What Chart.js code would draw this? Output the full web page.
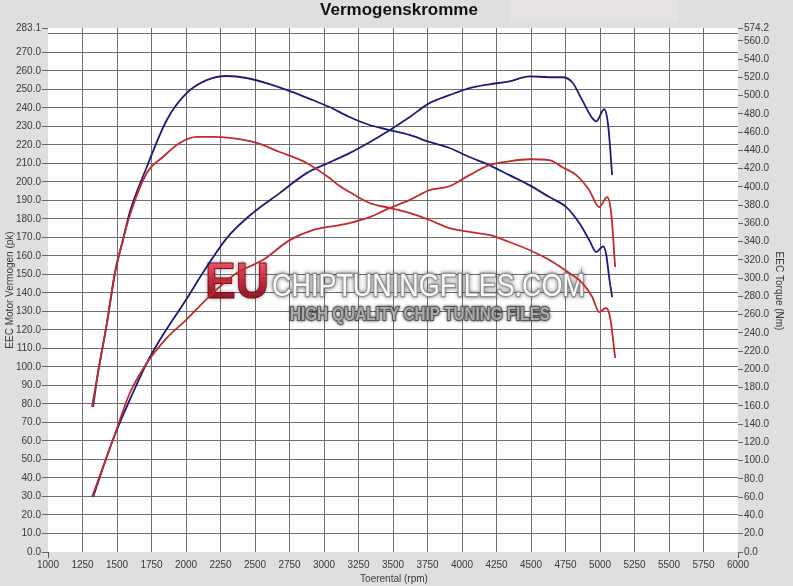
<!DOCTYPE html>
<html>
<head>
<meta charset="utf-8">
<script src="https://cdn.jsdelivr.net/npm/chart.js@4.4.1/dist/chart.umd.min.js"></script>
<style>
html,body{margin:0;padding:0;background:#e0e0e0;}
canvas{display:block;}
</style>
</head>
<body>
<canvas id="c" width="793" height="586"></canvas>
<script>
// ---- data ----
const xTicks = [1000,1250,1500,1750,2000,2250,2500,2750,3000,3250,3500,3750,4000,4250,4500,4750,5000,5250,5500,5750,6000];
const leftTicks = [0,10,20,30,40,50,60,70,80,90,100,110,120,130,140,150,160,170,180,190,200,210,220,230,240,250,260,270,280,283.1];
const rightTicks = [0,20,40,60,80,100,120,140,160,180,200,220,240,260,280,300,320,340,360,380,400,420,440,460,480,500,520,540,560,574.2];

// tuned (blue) power, pk
const bluePowerRpm = [1326,1470,1615,1716,1810,1999,2121,2300,2483,2679,2874,3040,3185,3330,3475,3619,3764,3909,4054,4198,4343,4488,4633,4727,4799,4871,4944,4973,5030,5059,5088];
const bluePowerPk  = [29.7,60.5,85.9,102.1,114.5,136.1,150.7,170.0,183.1,193.9,204.7,210.5,215.5,221.4,227.9,234.9,242.5,246.8,250.6,252.7,254.3,257.0,256.5,256.5,253.8,244.1,234.4,232.7,239.2,230.6,203.6];

// stock (red) power, pk
const redPowerRpm = [1319,1470,1593,1716,1847,1999,2194,2368,2556,2751,2918,3113,3185,3330,3475,3619,3764,3909,4054,4198,4343,4488,4633,4727,4828,4922,4994,5052,5081,5110];
const redPowerPk  = [29.7,60.5,85.9,102.1,114.5,125.3,139.9,150.7,157.7,168.5,173.9,176.6,177.7,180.9,185.8,190.1,195.5,197.6,203.6,209.0,211.1,212.2,211.7,207.9,203.6,195.5,186.3,191.7,183.1,153.9];

// tuned (blue) torque, Nm
const blueTorqueRpm = [1326,1362,1427,1485,1543,1593,1716,1861,2006,2150,2295,2440,2606,2773,2918,3040,3185,3330,3475,3619,3764,3909,4054,4198,4343,4488,4633,4756,4850,4922,4973,5023,5045,5067,5088];
const blueTorqueNm  = [158.9,196.1,250.9,305.7,341.9,372.6,421.9,473.4,503.0,517.0,521.6,519.4,512.8,504.0,495.3,487.6,476.7,467.9,462.4,457.0,449.3,442.7,432.8,424.0,413.0,402.0,388.9,378.0,360.5,341.9,328.7,335.0,326.0,300.0,279.4];

// stock (red) torque, Nm
const redTorqueRpm = [1319,1362,1427,1485,1543,1593,1716,1832,1955,2078,2194,2317,2512,2679,2874,3040,3113,3185,3330,3475,3619,3764,3909,4054,4198,4343,4488,4633,4777,4871,4944,4994,5045,5074,5110];
const redTorqueNm  = [158.9,196.1,250.9,305.7,341.9,369.0,415.3,432.8,448.2,454.8,454.8,453.7,448.2,438.3,426.3,409.8,401.0,394.5,382.4,377.0,371.5,363.8,355.0,350.7,347.4,339.7,330.9,320.0,305.7,294.8,279.4,263.0,267.4,256.4,212.6];

// ---- styling ----
const BLUE = '#1c1c78';
const RED = '#c42a2c';
const GRID = '#6e6e6e';
const TXT = '#3a3a3a';
const SANS = "'Liberation Sans',Arial,sans-serif";

function pts(xs, ys){ return xs.map((x,i)=>({x:x, y:ys[i]})); }

const bgPlugin = {
  id:'bg',
  beforeDraw(chart){
    const {ctx, chartArea:a} = chart;
    ctx.save();
    ctx.fillStyle = '#dfdfdf';
    ctx.fillRect(0,0,chart.width,chart.height);
    ctx.fillStyle = '#e6e2e4';
    ctx.fillRect(510,0,168,22);
    ctx.fillStyle = '#ffffff';
    ctx.fillRect(a.left,a.top,a.right-a.left,a.bottom-a.top);
    ctx.restore();
  }
};

const watermark = {
  id:'wm',
  beforeDatasetsDraw(chart){
    const ctx = chart.ctx;
    ctx.save();
    ctx.textAlign = 'left';
    ctx.textBaseline = 'alphabetic';
    // EU
    ctx.globalAlpha = 0.92;
    const g = ctx.createLinearGradient(0,262,0,298);
    g.addColorStop(0,'#ee5064');
    g.addColorStop(0.5,'#cc2236');
    g.addColorStop(1,'#8a1020');
    ctx.font = "bold 50px " + SANS;
    ctx.shadowColor = 'rgba(0,0,0,0.55)';
    ctx.shadowBlur = 4;
    ctx.fillStyle = g;
    ctx.fillText('EU', 205, 298, 64);
    ctx.shadowBlur = 0;
    ctx.strokeStyle = '#6a0a14';
    ctx.lineWidth = 1;
    ctx.strokeText('EU', 205, 298, 64);
    // CHIPTUNINGFILES.COM
    ctx.globalAlpha = 0.95;
    ctx.font = "32px " + SANS;
    ctx.shadowColor = 'rgba(0,0,0,0.6)';
    ctx.shadowBlur = 4;
    ctx.lineWidth = 2.4;
    ctx.strokeStyle = '#8f8f8f';
    ctx.strokeText('CHIPTUNINGFILES.COM', 272, 296, 313);
    ctx.shadowBlur = 0;
    ctx.fillStyle = '#ffffff';
    ctx.fillText('CHIPTUNINGFILES.COM', 272, 296, 313);
    // HIGH QUALITY CHIP TUNING FILES
    ctx.font = "bold 18px " + SANS;
    ctx.shadowColor = 'rgba(0,0,0,0.8)';
    ctx.shadowBlur = 3;
    ctx.lineWidth = 2;
    ctx.strokeStyle = '#555555';
    ctx.strokeText('HIGH QUALITY CHIP TUNING FILES', 290, 320, 260);
    ctx.shadowBlur = 0;
    ctx.fillStyle = '#b0b0b0';
    ctx.fillText('HIGH QUALITY CHIP TUNING FILES', 290, 320, 260);
    ctx.restore();
  }
};

const texts = {
  id:'texts',
  afterDraw(chart){
    const ctx = chart.ctx;
    ctx.save();
    ctx.fillStyle = '#111';
    ctx.textAlign = 'center';
    ctx.textBaseline = 'middle';
    ctx.font = "bold 17px " + SANS;
    ctx.fillText('Vermogenskromme', 399, 10);
    ctx.fillStyle = TXT;
    ctx.font = "10px " + SANS;
    ctx.fillText('Toerental (rpm)', 394, 579);
    ctx.save();
    ctx.translate(10, 290);
    ctx.rotate(-Math.PI/2);
    ctx.fillText('EEC Motor Vermogen (pk)', 0, 0);
    ctx.restore();
    ctx.save();
    ctx.translate(779, 291);
    ctx.rotate(Math.PI/2);
    ctx.fillText('EEC Torque (Nm)', 0, 0);
    ctx.restore();
    ctx.restore();
  }
};

const lineDs = (label, xs, ys, color, axis) => ({
  label, data: pts(xs, ys), yAxisID: axis,
  borderColor: color, backgroundColor: color, borderWidth: 1.8,
  pointRadius: 0, fill: false, cubicInterpolationMode: 'monotone'
});

const tickFont = { family: SANS, size: 10 };

new Chart(document.getElementById('c'), {
  type: 'line',
  data: {
    datasets: [
      lineDs('Vermogen stock', redPowerRpm, redPowerPk, RED, 'y'),
      lineDs('Koppel stock', redTorqueRpm, redTorqueNm, RED, 'y2'),
      lineDs('Vermogen tuned', bluePowerRpm, bluePowerPk, BLUE, 'y'),
      lineDs('Koppel tuned', blueTorqueRpm, blueTorqueNm, BLUE, 'y2')
    ]
  },
  options: {
    responsive: false,
    animation: false,
    layout: { padding: { top: 28, left: 0, right: 0, bottom: 0 } },
    plugins: { legend: { display: false }, title: { display: false }, tooltip: { enabled: false } },
    scales: {
      x: {
        type: 'linear', min: 1000, max: 6000,
        afterBuildTicks: s => { s.ticks = xTicks.map(v => ({ value: v })); },
        afterFit: s => { s.height = 34; },
        border: { display: false },
        grid: {
          color: c => (c.tick && (c.tick.value === 1000 || c.tick.value === 6000)) ? 'rgba(0,0,0,0)' : GRID,
          tickColor: c => (c.tick && (c.tick.value === 1000 || c.tick.value === 6000)) ? '#555' : 'rgba(0,0,0,0)',
          tickLength: 6, lineWidth: 1
        },
        ticks: { autoSkip: false, maxRotation: 0, padding: 1, color: TXT, font: tickFont, callback: v => String(v) }
      },
      y: {
        type: 'linear', position: 'left', min: 0, max: 283.1,
        afterBuildTicks: s => { s.ticks = leftTicks.map(v => ({ value: v })); },
        afterFit: s => { s.width = 48; },
        border: { display: false },
        grid: {
          color: c => (c.tick && c.tick.value > 0 && c.tick.value <= 280) ? GRID : 'rgba(0,0,0,0)',
          tickColor: c => (c.tick && c.tick.value === 280) ? 'rgba(0,0,0,0)' : '#666',
          tickLength: 6, lineWidth: 1
        },
        ticks: { autoSkip: false, padding: 1, color: TXT, font: tickFont, callback: v => v === 280 ? '' : Number(v).toFixed(1) }
      },
      y2: {
        type: 'linear', position: 'right', min: 0, max: 574.2,
        afterBuildTicks: s => { s.ticks = rightTicks.map(v => ({ value: v })); },
        afterFit: s => { s.width = 55; },
        border: { display: false },
        grid: { drawOnChartArea: false, tickColor: '#666', tickLength: 5 },
        ticks: { autoSkip: false, padding: 1, color: TXT, font: tickFont, callback: v => Number(v).toFixed(1) }
      }
    }
  },
  plugins: [bgPlugin, watermark, texts]
});
</script>
</body>
</html>
